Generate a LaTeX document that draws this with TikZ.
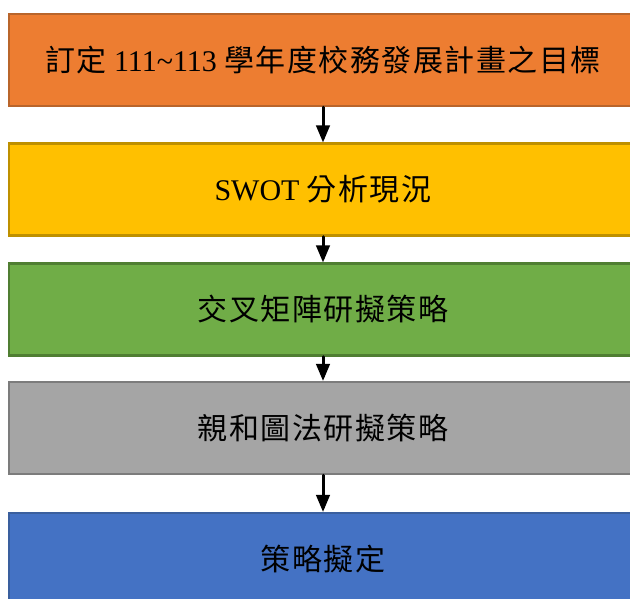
\documentclass[tikz,border=0pt]{standalone}
\usepackage{fontspec}
\setmainfont{Liberation Serif}
\newfontfamily\cjk[LetterSpace=5]{Noto Sans CJK TC}
\usetikzlibrary{arrows}

\definecolor{goalfill}{HTML}{ED7D31}
\definecolor{goalline}{HTML}{B9652B}
\definecolor{swotfill}{HTML}{FFC000}
\definecolor{swotline}{HTML}{BE9000}
\definecolor{crossfill}{HTML}{70AD47}
\definecolor{crossline}{HTML}{507E32}
\definecolor{affinfill}{HTML}{A5A5A5}
\definecolor{affinline}{HTML}{7C7C7C}
\definecolor{planfill}{HTML}{4472C4}
\definecolor{planline}{HTML}{3A5F9E}

\begin{document}
\begin{tikzpicture}[line cap=round,line join=round,>=triangle 45,x=1pt,y=-1pt,
  stage/.style={draw,line width=2.5pt,line join=miter,minimum width=628pt,
    minimum height=92pt,inner sep=0pt,font=\fontsize{30}{36}\selectfont}]
\useasboundingbox (0,0) rectangle (630,599);
\clip (0,0) rectangle (630,599);
% the five steps, top to bottom
\node[stage,fill=goalfill,draw=goalline] (goal) at (323,60)
  {{\cjk 訂定} 111\textasciitilde113 {\cjk 學年度校務發展計畫之目標}};
\node[stage,fill=swotfill,draw=swotline] (swot) at (323,189.5) {SWOT {\cjk 分析現況}};
\node[stage,fill=crossfill,draw=crossline] (cross) at (323,309.5) {\cjk 交叉矩陣研擬策略};
\node[stage,fill=affinfill,draw=affinline] (affin) at (323,428) {\cjk 親和圖法研擬策略};
\node[stage,fill=planfill,draw=planline] (plan) at (323,559) {\cjk 策略擬定};
% arrows between the steps
\foreach \a/\b in {goal/swot,swot/cross,cross/affin,affin/plan}
\draw[->,line width=3pt,color=black] (\a) -- (\b);
\end{tikzpicture}
\end{document}
